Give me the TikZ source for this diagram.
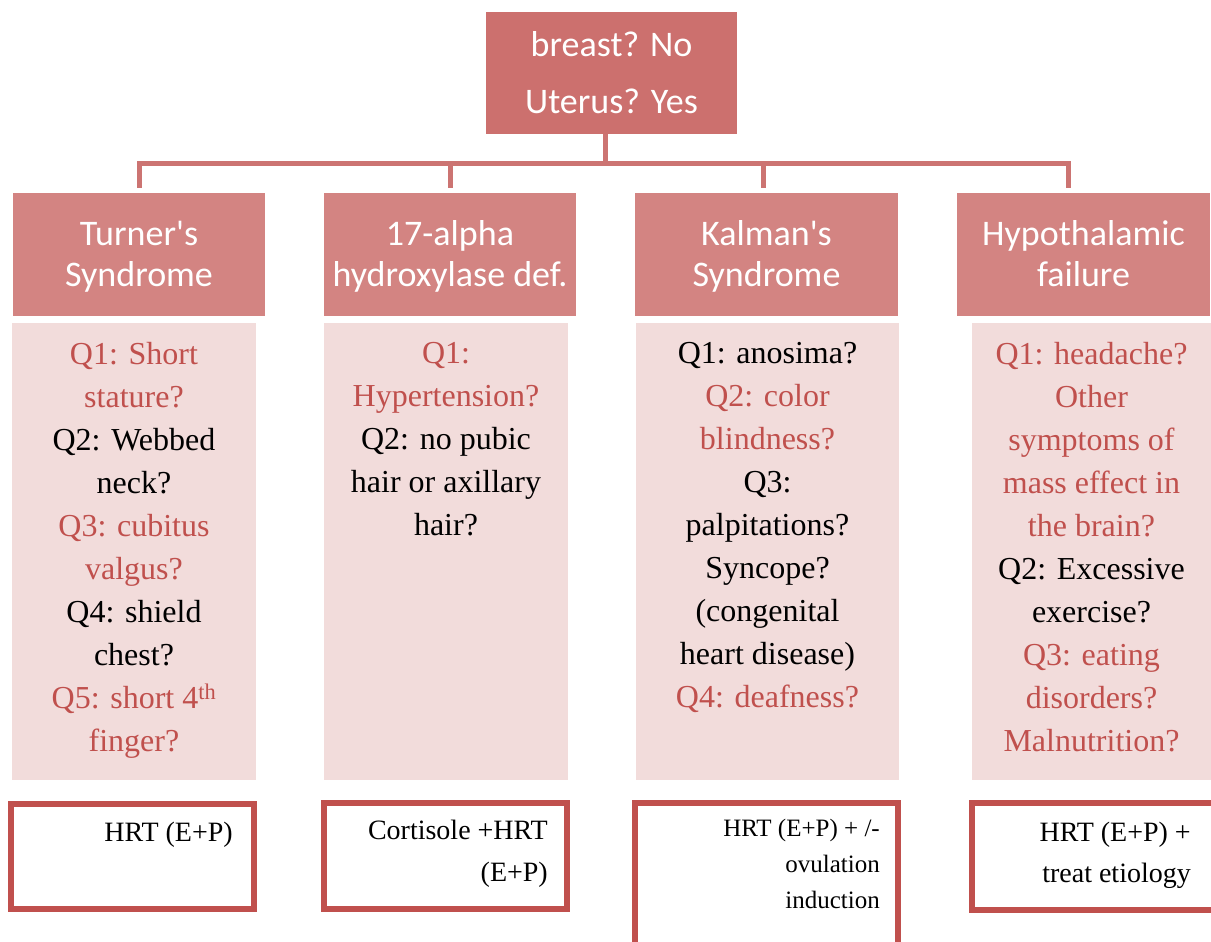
\documentclass[tikz,border=0pt]{standalone}
\usepackage{fontspec}
\usepackage{xcolor}
\usepackage{tikz}
\usetikzlibrary{arrows.meta,positioning}
\newfontfamily\headfont{Carlito}
\newfontfamily\bodyfont{Liberation Serif}
\definecolor{topred}{HTML}{CC706E}
\definecolor{headred}{HTML}{D38482}
\definecolor{paleq}{HTML}{F2DCDB}
\definecolor{qred}{HTML}{C0504D}
\definecolor{linkred}{HTML}{CC7472}
\newcommand{\redq}[1]{\textcolor{qred}{#1}}

\begin{document}
\begin{tikzpicture}[
  x=1pt, y=-1pt,
  topbox/.style={fill=topred, text=white, inner sep=0pt, minimum width=251pt, minimum height=122pt,
    align=center, font=\headfont\fontsize{36}{57}\selectfont},
  headbox/.style={fill=headred, text=white, inner sep=0pt, minimum height=123pt,
    align=center, font=\headfont\fontsize{36}{41}\selectfont},
  qbox/.style={fill=paleq, inner sep=0pt, minimum height=457pt},
  qtext/.style={inner sep=0pt, align=center, font=\bodyfont\fontsize{32}{43}\selectfont},
  rxbox/.style={draw=qred, line width=6pt, inner sep=0pt},
  rxtext/.style={inner sep=0pt, align=right, font=\bodyfont\fontsize{28}{42}\selectfont},
  link/.style={draw=linkred, line width=5pt}
]
  \useasboundingbox (0,0) rectangle (1211,942);

  % top question
  \node[topbox] (top) at (611.5,73) {breast? No\\Uterus? Yes};

  % diagnoses
  \node[headbox, minimum width=252pt] (h1) at (139,254.5) {\strut Turner's\\Syndrome};
  \node[headbox, minimum width=252pt] (h2) at (450,254.5) {\strut 17-alpha\\hydroxylase def.};
  \node[headbox, minimum width=263pt] (h3) at (766.5,254.5) {\strut Kalman's\\Syndrome};
  \node[headbox, minimum width=253pt] (h4) at (1083.5,254.5) {\strut Hypothalamic\\failure\vphantom{y}};

  % connectors
  \coordinate (hub) at (605,163);
  \draw[link] (top.south -| hub) -- (hub);
  \draw[link, shorten >=5pt] (hub) -| (h1.north);
  \draw[link, shorten >=5pt] (hub) -| (h2.north);
  \draw[link, shorten >=5pt] (hub) -| ([xshift=-3.5pt]h3.north);
  \draw[link, shorten >=5pt] (hub) -| ([xshift=-15pt]h4.north);

  % questions
  \node[qbox, minimum width=244pt] (q1) at (134,551.5) {};
  \node[qbox, minimum width=244pt] (q2) at (446,551.5) {};
  \node[qbox, minimum width=263pt] (q3) at (767.5,551.5) {};
  \node[qbox, minimum width=239pt] (q4) at (1091.5,551.5) {};

  \node[qtext, below=19pt of q1.north] (q1t) {\redq{Q1: Short}\\\redq{stature?}\\Q2: Webbed\\neck?\\
    \redq{Q3: cubitus}\\\redq{valgus?}\\Q4: shield\\chest?\\\redq{Q5: short 4\textsuperscript{th}}\\\redq{finger?}};
  \node[qtext, below=19pt of q2.north] (q2t) {\redq{Q1:}\\\redq{Hypertension?}\\Q2: no pubic\\hair or axillary\\hair?};
  \node[qtext, below=19pt of q3.north] (q3t) {Q1: anosima?\\\redq{Q2: color}\\\redq{blindness?}\\Q3:\\palpitations?\\
    Syncope?\\(congenital\\heart disease)\\\redq{Q4: deafness?}};
  \node[qtext, below=19pt of q4.north] (q4t) {\redq{Q1: headache?}\\\redq{Other}\\\redq{symptoms of}\\\redq{mass effect in}\\
    \redq{the brain?}\\Q2: Excessive\\exercise?\\\redq{Q3: eating}\\\redq{disorders?}\\\redq{Malnutrition?}};

  % treatment
  \node[rxbox, minimum width=243pt, minimum height=105pt] (r1) at (132.5,856.5) {};
  \node[rxbox, minimum width=243pt, minimum height=106pt] (r2) at (445.5,856) {};
  \node[rxbox, minimum width=263pt, minimum height=150pt] (r3) at (766.5,878) {};
  \node[rxbox, minimum width=243pt, minimum height=107pt] (r4) at (1093.5,856.5) {};

  \node[rxtext, below left=21pt and 24pt of r1.north east] (r1t) {HRT (E+P)};
  \node[rxtext, below left=20pt and 22pt of r2.north east] (r2t) {Cortisole +HRT\\(E+P)};
  \node[rxtext, below left=19pt and 21pt of r3.north east, font=\bodyfont\fontsize{25}{36}\selectfont] (r3t) {HRT (E+P) + /-\\ovulation\\induction};
  \node[rxtext, below left=22pt and 27pt of r4.north east, font=\bodyfont\fontsize{28}{41}\selectfont] (r4t) {HRT (E+P) +\\treat etiology};
\end{tikzpicture}
\end{document}
